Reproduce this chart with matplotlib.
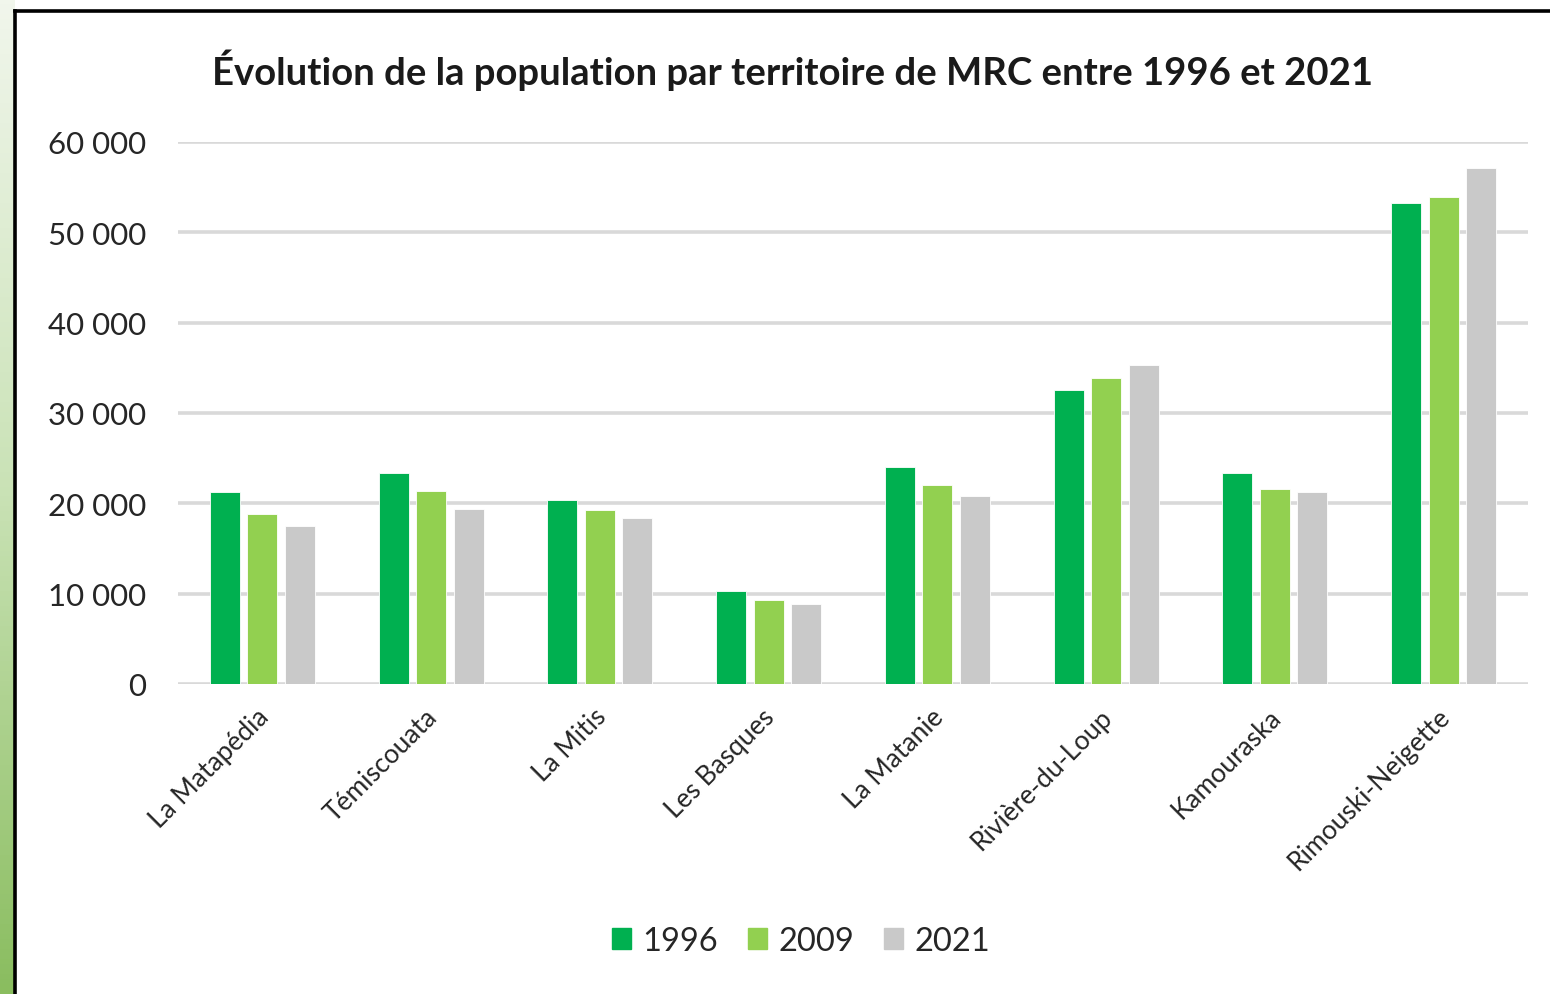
import numpy as np
import matplotlib.pyplot as plt
from matplotlib.patches import Rectangle
from matplotlib.lines import Line2D
from matplotlib.colors import LinearSegmentedColormap

territoires = ["La Matapédia", "Témiscouata", "La Mitis", "Les Basques",
               "La Matanie", "Rivière-du-Loup", "Kamouraska", "Rimouski-Neigette"]
pop_1996 = [21300, 23400, 20400, 10300, 24000, 32500, 23400, 53200]
pop_2009 = [18800, 21400, 19300, 9300, 22000, 33900, 21600, 53900]
pop_2021 = [17500, 19400, 18400, 8900, 20800, 35300, 21300, 57100]
annees = ["1996", "2009", "2021"]
couleurs = ["#00b050", "#92d050", "#c9c9c9"]
yticks = [0, 10000, 20000, 30000, 40000, 50000, 60000]
ytick_labels = ["0", "10 000", "20 000", "30 000", "40 000", "50 000", "60 000"]

plt.rcParams["font.family"] = ["Lato", "DejaVu Sans"]

W, H = 1550, 995
fig = plt.figure(figsize=(W / 100, H / 100), dpi=100)

# bande verte en dégradé à gauche
bg = fig.add_axes([0, 0, 14 / W, 1])
grad = np.linspace(0, 1, 200).reshape(-1, 1)
cmap = LinearSegmentedColormap.from_list("g", ["#f1f6ec", "#c9e2b5", "#8abd5f"])
bg.imshow(grad, aspect="auto", cmap=cmap, extent=[0, 1, 0, 1], origin="upper")
bg.set_axis_off()

# cadre noir (bords haut et gauche)
fig.add_artist(Line2D([15 / W, 1], [1 - 11.5 / H, 1 - 11.5 / H],
                      color="black", lw=2.6, transform=fig.transFigure))
fig.add_artist(Line2D([15 / W, 15 / W], [0, 1 - 11.5 / H],
                      color="black", lw=2.6, transform=fig.transFigure))

ax = fig.add_axes([178 / W, 1 - 685 / H, 1350 / W, 542 / H])
x = np.arange(len(territoires))
bw = 0.178
step = 0.222
for i, (vals, c, lab) in enumerate(zip([pop_1996, pop_2009, pop_2021], couleurs, annees)):
    ax.bar(x + (i - 1) * step, vals, width=bw, color=c, edgecolor="white",
           linewidth=0.6, label=lab, zorder=3)

ax.set_xlim(-0.5, len(territoires) - 0.5)
ax.set_ylim(0, 60000)
ax.set_yticks(yticks)
ax.set_yticklabels(ytick_labels, fontsize=22.5, color="#262626")
ax.yaxis.grid(True, color="#d9d9d9", lw=2.6, zorder=0)
ax.set_axisbelow(True)
ax.tick_params(axis="y", length=0, pad=23)
ax.tick_params(axis="x", length=0, pad=14)
ax.set_xticks(x - 0.04)
ax.set_xticklabels(territoires, rotation=45, ha="right", rotation_mode="anchor",
                   fontsize=19, color="#262626")
for s in ax.spines.values():
    s.set_visible(False)

fig.text(792 / W, 1 - 70 / H, "Évolution de la population par territoire de MRC entre 1996 et 2021",
         ha="center", va="center", fontsize=27.5, fontweight="bold", color="#1a1a1a")

handles = [Rectangle((0, 0), 1, 1, color=c) for c in couleurs]
fig.legend(handles, annees, loc="center", bbox_to_anchor=(801 / W, 1 - 942 / H),
           ncol=3, frameon=False, fontsize=23.5, handlelength=0.6, handleheight=0.6,
           handletextpad=0.35, columnspacing=0.9, labelcolor="#262626")

fig.savefig("out.png", dpi=100)
